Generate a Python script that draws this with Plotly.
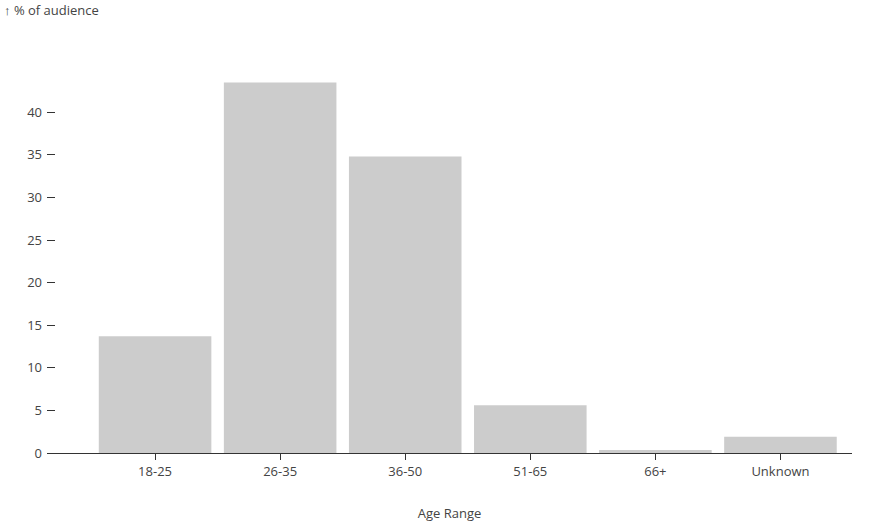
import plotly.graph_objects as go

categories = ["18-25", "26-35", "36-50", "51-65", "66+", "Unknown"]
values = [13.7, 43.5, 34.8, 5.6, 0.35, 1.9]
y_ticks = [0, 5, 10, 15, 20, 25, 30, 35, 40]

fig = go.Figure(go.Bar(x=categories, y=values, marker_color="#cccccc",
                       marker_line_width=0, hoverinfo="x+y"))

font = dict(family="Open Sans, Noto Sans, sans-serif", size=13, color="#444")
fig.update_layout(
    width=880, height=522,
    margin=dict(l=47, r=28, t=74, b=69),
    plot_bgcolor="white", paper_bgcolor="white",
    bargap=0.1, font=font, showlegend=False,
    xaxis=dict(type="category", range=[-0.864, 5.572], showgrid=False,
               showline=True, linecolor="#333", linewidth=1.3,
               ticks="outside", ticklen=6, tickcolor="#333",
               title=dict(text="Age Range", standoff=31, font=dict(size=13)),
               zeroline=False, fixedrange=True, automargin=False),
    yaxis=dict(range=[0, 44.5], tickvals=y_ticks, showgrid=False,
               showline=False, zeroline=False, ticks="inside", ticklen=8,
               tickcolor="#333", ticklabelstandoff=4,
               fixedrange=True, automargin=False),
    annotations=[dict(text="↑ % of audience", showarrow=False,
                      xanchor="left", yanchor="middle",
                      xref="paper", yref="paper",
                      x=-45 / 805, y=1 + (74 - 10) / 379)],
)
fig.write_html("out.html", config={"displayModeBar": False},
               post_script="document.body.style.margin='0';document.body.style.overflow='hidden';")
